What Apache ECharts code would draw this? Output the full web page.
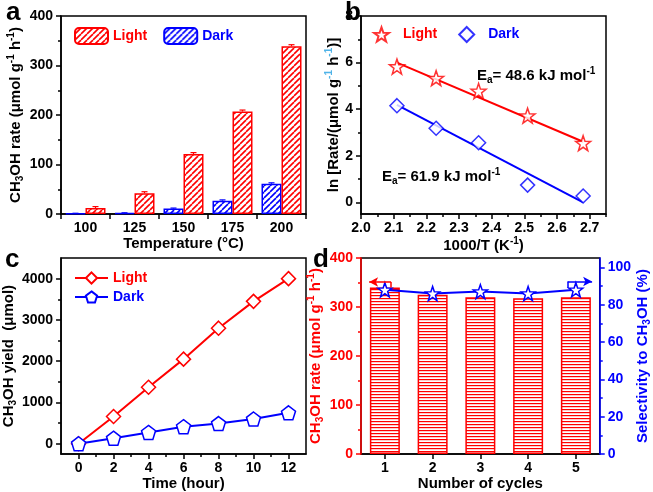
<!DOCTYPE html>
<html><head><meta charset="utf-8">
<script src="https://cdn.jsdelivr.net/npm/echarts@6/dist/echarts.min.js"></script>
<style>html,body{margin:0;padding:0;background:#fff}#c{width:653px;height:492px}</style>
</head><body><div id="c"></div>
<script>
// ---------- data ----------
const tempCats = ['100', '125', '150', '175', '200'];
const lightRate = [12, 42, 121, 207, 339];
const lightErr = [3, 3, 3, 3, 3];
const darkRate = [1, 2, 11, 27, 61];
const darkErr = [0.5, 0.5, 1, 1.5, 2];

const invT = [2.11, 2.23, 2.36, 2.51, 2.68];
const lnLight = [5.83, 5.33, 4.78, 3.72, 2.54];
const lnDark = [4.15, 3.18, 2.56, 0.74, 0.27];
const fitX = [2.11, 2.68];
const fitLight = [6.0, 2.6];
const fitDark = [4.18, 0.0];
const bXTicks = [2.0, 2.1, 2.2, 2.3, 2.4, 2.5, 2.6, 2.7];
const bXMinor = [2.05, 2.15, 2.25, 2.35, 2.45, 2.55, 2.65, 2.75];
const bYTicks = [0, 2, 4, 6, 8];
const bYMinor = [1, 3, 5, 7];

const hours = [0, 2, 4, 6, 8, 10, 12];
const yieldLight = [0, 660, 1370, 2050, 2800, 3450, 4000];
const yieldDark = [0, 135, 275, 415, 490, 600, 750];
const cXTicks = [0, 2, 4, 6, 8, 10, 12];
const cXMinor = [1, 3, 5, 7, 9, 11];
const cYTicks = [0, 1000, 2000, 3000, 4000];
const cYMinor = [500, 1500, 2500, 3500];

const cycles = [1, 2, 3, 4, 5];
const cycleRate = [340, 325, 320, 318, 320];
const selectivity = [88, 86, 87, 86, 88];
const dRightTicks = [0, 20, 40, 60, 80, 100];
const dRightMinor = [10, 30, 50, 70, 90];
const arrowRate = [[1.13, 340], [1.13, 351], [0.67, 351]];
const arrowSel = [[4.83, 89], [4.83, 92.4], [5.34, 92.4]];

// ---------- styles ----------
const FONT = '"Liberation Sans", Arial, Helvetica, sans-serif';
const RED = '#ff0000', BLUE = '#0000ff', BLACK = '#000';
const NAME_SIZE = 15;
const STAR = 'path://M0,-10 L2.35,-3.24 L9.51,-3.09 L3.8,1.24 L5.88,8.09 L0,4 L-5.88,8.09 L-3.8,1.24 L-9.51,-3.09 L-2.35,-3.24 Z';
const PENT = 'path://M0,-10 L9.51,-3.09 L5.88,8.09 L-5.88,8.09 L-9.51,-3.09 Z';

function diagHatch(color) {
  const s = 6, c = document.createElement('canvas');
  c.width = s; c.height = s;
  const g = c.getContext('2d');
  g.fillStyle = '#fff'; g.fillRect(0, 0, s, s);
  g.strokeStyle = color; g.lineWidth = 1.6;
  for (const k of [-s, 0, s]) { g.beginPath(); g.moveTo(k, s); g.lineTo(k + s, 0); g.stroke(); }
  return { image: c, repeat: 'repeat' };
}
function horizStripes(color) {
  const c = document.createElement('canvas');
  c.width = 4; c.height = 3;
  const g = c.getContext('2d');
  g.fillStyle = '#fff'; g.fillRect(0, 0, 4, 3);
  g.fillStyle = color; g.fillRect(0, 1, 4, 1.2);
  return { image: c, repeat: 'repeat' };
}
function R(color, size, supColor) {
  size = size || NAME_SIZE;
  const s = Math.round(size * 0.66);
  return {
    t: { fontSize: size, fontWeight: 'bold', fontFamily: FONT, color: color, lineHeight: size + 4 },
    sub: { fontSize: s, fontWeight: 'bold', fontFamily: FONT, color: color, verticalAlign: 'bottom', lineHeight: s },
    sup: { fontSize: s, fontWeight: 'bold', fontFamily: FONT, color: supColor || color, verticalAlign: 'top', lineHeight: s }
  };
}
const lbl = (color) => ({ fontFamily: FONT, fontWeight: 'bold', fontSize: 14, color: color || BLACK });
const nameStyle = { fontFamily: FONT, fontWeight: 'bold', fontSize: NAME_SIZE, color: BLACK };
const line = (color) => ({ show: true, onZero: false, lineStyle: { color: color || BLACK, width: 1.5 } });
const tick = (color, len) => ({ show: true, length: len || 5, lineStyle: { color: color || BLACK, width: 1.5 } });
const gridBox = (l, t, w, h) => ({ left: l, top: t, width: w, height: h, show: true, borderColor: BLACK, borderWidth: 1.5, backgroundColor: 'transparent' });
const plain = v => String(v);

function minorAxis(base, vals, color) {
  return Object.assign({}, base, {
    name: '', axisLine: { show: false, onZero: false }, axisLabel: { show: false },
    axisTick: Object.assign(tick(color, 3), { customValues: vals }), splitLine: { show: false }
  });
}

// ---------- axes ----------
const bX = { type: 'value', gridIndex: 1, min: 2.0, max: 2.75, position: 'bottom' };
const bY = { type: 'value', gridIndex: 1, min: -0.5, max: 8, position: 'left' };
const cX = { type: 'value', gridIndex: 2, min: -1, max: 13, position: 'bottom' };
const cY = { type: 'value', gridIndex: 2, min: -250, max: 4500, position: 'left' };
const dYR = { type: 'value', gridIndex: 3, min: 0, max: 105, position: 'right' };

const xAxis = [
  { type: 'category', gridIndex: 0, data: tempCats, position: 'bottom',
    axisLine: line(), axisTick: tick(), axisLabel: Object.assign(lbl(), { margin: 7 }), splitLine: { show: false },
    name: 'Temperature (°C)', nameLocation: 'middle', nameGap: 18, nameTextStyle: nameStyle },
  Object.assign({}, bX, {
    axisLine: line(), axisTick: Object.assign(tick(), { customValues: bXTicks }),
    axisLabel: Object.assign(lbl(), { margin: 7, customValues: bXTicks, formatter: v => v.toFixed(1) }),
    splitLine: { show: false },
    name: '{t|1000/T (K}{sup|-1}{t|)}', nameLocation: 'middle', nameGap: 17,
    nameTextStyle: { rich: R(BLACK) } }),
  minorAxis(bX, bXMinor),
  Object.assign({}, cX, {
    axisLine: line(), axisTick: Object.assign(tick(), { customValues: cXTicks }),
    axisLabel: Object.assign(lbl(), { margin: 7, customValues: cXTicks, formatter: plain }), splitLine: { show: false },
    name: 'Time (hour)', nameLocation: 'middle', nameGap: 18, nameTextStyle: nameStyle }),
  minorAxis(cX, cXMinor),
  { type: 'value', gridIndex: 3, min: 0.5, max: 5.5, position: 'bottom',
    axisLine: line(), axisTick: Object.assign(tick(), { customValues: cycles }),
    axisLabel: Object.assign(lbl(), { margin: 7, customValues: cycles, formatter: plain }), splitLine: { show: false },
    name: 'Number of cycles', nameLocation: 'middle', nameGap: 18, nameTextStyle: nameStyle }
];

const yAxis = [
  { type: 'value', gridIndex: 0, min: 0, max: 400, interval: 100, position: 'left',
    axisLine: line(), axisTick: tick(), axisLabel: Object.assign(lbl(), { margin: 8, formatter: plain }),
    minorTick: { show: true, splitNumber: 2, length: 3, lineStyle: { color: BLACK, width: 1.5 } },
    splitLine: { show: false }, minorSplitLine: { show: false },
    name: '{t|CH}{sub|3}{t|OH rate (μmol g}{sup|-1}{t| h}{sup|-1}{t|)}', nameLocation: 'middle', nameGap: 34,
    nameTextStyle: { rich: R(BLACK) } },
  Object.assign({}, bY, {
    axisLine: line(), axisTick: Object.assign(tick(), { customValues: bYTicks }),
    axisLabel: Object.assign(lbl(), { margin: 8, customValues: bYTicks, formatter: plain }), splitLine: { show: false },
    name: '{t|ln [Rate/(μmol g}{sup|-1}{t| h}{sup|-1}{t|)]}', nameLocation: 'middle', nameGap: 18,
    nameTextStyle: { rich: R(BLACK, NAME_SIZE, '#4fb3e8') } }),
  minorAxis(bY, bYMinor),
  Object.assign({}, cY, {
    axisLine: line(), axisTick: Object.assign(tick(), { customValues: cYTicks }),
    axisLabel: Object.assign(lbl(), { margin: 8, customValues: cYTicks, formatter: plain }), splitLine: { show: false },
    name: '{t|CH}{sub|3}{t|OH yield  (μmol)}', nameLocation: 'middle', nameGap: 36,
    nameTextStyle: { rich: R(BLACK) } }),
  minorAxis(cY, cYMinor),
  { type: 'value', gridIndex: 3, min: 0, max: 400, interval: 100, position: 'left', z: 3,
    axisLine: line(RED), axisTick: tick(RED), axisLabel: Object.assign(lbl(RED), { margin: 8, formatter: plain }),
    minorTick: { show: true, splitNumber: 2, length: 3, lineStyle: { color: RED, width: 1.5 } },
    splitLine: { show: false }, minorSplitLine: { show: false },
    name: '{t|CH}{sub|3}{t|OH rate (μmol g}{sup|-1}{t| h}{sup|-1}{t|)}', nameLocation: 'middle', nameGap: 29,
    nameTextStyle: { rich: R(RED) } },
  Object.assign({}, dYR, { z: 3,
    axisLine: line(BLUE), axisTick: Object.assign(tick(BLUE), { customValues: dRightTicks }),
    axisLabel: Object.assign(lbl(BLUE), { margin: 8, customValues: dRightTicks, formatter: plain }), splitLine: { show: false },
    name: '{t|Selectivity to CH}{sub|3}{t|OH (%)}', nameLocation: 'middle', nameGap: 26, nameRotate: 90,
    nameTextStyle: { rich: R(BLUE) } }),
  minorAxis(dYR, dRightMinor, BLUE)
];

// ---------- series ----------
const errData = tempCats.map((c, i) => [i, lightRate[i], lightErr[i], 1])
  .concat(tempCats.map((c, i) => [i, darkRate[i], darkErr[i], -1]));

function arrowLines(pts, color) {
  return { silent: true, animation: false, symbol: ['none', 'none'], symbolSize: [7, 9], label: { show: false },
    lineStyle: { color: color, width: 1.5, type: 'solid' },
    data: [
      [{ coord: pts[0], symbol: 'none' }, { coord: pts[1], symbol: 'none' }],
      [{ coord: pts[1], symbol: 'none' }, { coord: pts[2], symbol: 'arrow', symbolSize: [7, 9] }]
    ] };
}

const series = [
  { type: 'bar', name: 'Dark#a', xAxisIndex: 0, yAxisIndex: 0, data: darkRate, barWidth: 20, barGap: '0%',
    itemStyle: { color: diagHatch(BLUE), borderColor: BLUE, borderWidth: 1.5 } },
  { type: 'bar', name: 'Light#a', xAxisIndex: 0, yAxisIndex: 0, data: lightRate, barWidth: 20, barGap: '0%',
    itemStyle: { color: diagHatch(RED), borderColor: RED, borderWidth: 1.5 } },
  { type: 'custom', xAxisIndex: 0, yAxisIndex: 0, data: errData, z: 5,
    renderItem: function (params, api) {
      const i = api.value(0), v = api.value(1), e = api.value(2), side = api.value(3);
      const col = side > 0 ? RED : BLUE;
      const p0 = api.coord([i, v]), p1 = api.coord([i, v + e]);
      const x = p0[0] + side * 10;
      return { type: 'group', children: [
        { type: 'line', shape: { x1: x, y1: p0[1], x2: x, y2: p1[1] }, style: { stroke: col, lineWidth: 1.2 } },
        { type: 'line', shape: { x1: x - 3, y1: p1[1], x2: x + 3, y2: p1[1] }, style: { stroke: col, lineWidth: 1.2 } }
      ] };
    } },

  { type: 'line', xAxisIndex: 1, yAxisIndex: 1, data: fitX.map((x, i) => [x, fitLight[i]]), symbol: 'none',
    lineStyle: { color: RED, width: 2 }, silent: true },
  { type: 'line', xAxisIndex: 1, yAxisIndex: 1, data: fitX.map((x, i) => [x, fitDark[i]]), symbol: 'none',
    lineStyle: { color: BLUE, width: 2 }, silent: true },
  { type: 'scatter', name: 'Light#b', xAxisIndex: 1, yAxisIndex: 1, data: invT.map((x, i) => [x, lnLight[i]]),
    symbol: STAR, symbolSize: 15, z: 4, itemStyle: { color: '#fff', borderColor: RED, borderWidth: 1.5 } },
  { type: 'scatter', name: 'Dark#b', xAxisIndex: 1, yAxisIndex: 1, data: invT.map((x, i) => [x, lnDark[i]]),
    symbol: 'diamond', symbolSize: 14, z: 4, itemStyle: { color: '#fff', borderColor: BLUE, borderWidth: 1.5 } },

  { type: 'line', name: 'Light#c', xAxisIndex: 3, yAxisIndex: 3, data: hours.map((h, i) => [h, yieldLight[i]]),
    symbol: 'diamond', symbolSize: 14, showAllSymbol: true,
    lineStyle: { color: RED, width: 2 }, itemStyle: { color: '#fff', borderColor: RED, borderWidth: 1.5 } },
  { type: 'line', name: 'Dark#c', xAxisIndex: 3, yAxisIndex: 3, data: hours.map((h, i) => [h, yieldDark[i]]),
    symbol: PENT, symbolSize: 14, showAllSymbol: true,
    lineStyle: { color: BLUE, width: 2 }, itemStyle: { color: '#fff', borderColor: BLUE, borderWidth: 1.5 } },

  { type: 'bar', xAxisIndex: 5, yAxisIndex: 5, data: cycles.map((c, i) => [c, cycleRate[i]]), barWidth: 30,
    itemStyle: { color: horizStripes(RED), borderColor: RED, borderWidth: 1.5 },
    markLine: arrowLines(arrowRate, RED) },
  { type: 'line', xAxisIndex: 5, yAxisIndex: 6, data: cycles.map((c, i) => [c, selectivity[i]]), z: 4,
    symbol: STAR, symbolSize: 14, lineStyle: { color: BLUE, width: 2 },
    itemStyle: { color: '#fff', borderColor: BLUE, borderWidth: 1.5 },
    markLine: arrowLines(arrowSel, BLUE) }
];

const stripName = n => n.split('#')[0];
const legTxt = { fontFamily: FONT, fontWeight: 'bold', fontSize: 14 };
const legend = [
  { left: 74, top: 27, padding: 0, itemWidth: 33, itemHeight: 16, itemGap: 16, selectedMode: false, formatter: stripName,
    textStyle: legTxt,
    data: [{ name: 'Light#a', textStyle: { color: RED } }, { name: 'Dark#a', textStyle: { color: BLUE } }] },
  { left: 373, top: 26, padding: 0, itemWidth: 15, itemHeight: 15, itemGap: 21, selectedMode: false,
    formatter: n => '{p|}' + stripName(n),
    textStyle: Object.assign({ rich: { p: { width: 9 } } }, legTxt),
    data: [{ name: 'Light#b', textStyle: { color: RED } }, { name: 'Dark#b', textStyle: { color: BLUE } }] },
  { left: 74, top: 271, padding: 0, orient: 'vertical', itemWidth: 33, itemHeight: 14, itemGap: 5, selectedMode: false,
    formatter: stripName, textStyle: legTxt,
    data: [{ name: 'Light#c', textStyle: { color: RED } }, { name: 'Dark#c', textStyle: { color: BLUE } }] }
];

const letter = (t, x, y) => ({ type: 'text', x: x, y: y, style: { text: t, font: 'bold 26px ' + FONT, fill: BLACK } });
const graphic = [
  letter('a', 6, 0), letter('b', 345, 0), letter('c', 5, 247), letter('d', 313, 247),
  { type: 'text', x: 477, y: 66, style: { text: '{t|E}{sub|a}{t|= 48.6 kJ mol}{sup|-1}', rich: R(RED) } },
  { type: 'text', x: 382, y: 167, style: { text: '{t|E}{sub|a}{t|= 61.9 kJ mol}{sup|-1}', rich: R(BLUE) } }
];

const chart = echarts.init(document.getElementById('c'), null, { renderer: 'canvas' });
chart.setOption({
  animation: false,
  backgroundColor: '#fff',
  grid: [gridBox(61, 16, 245, 198), gridBox(361, 16, 245, 198), gridBox(61, 258, 245, 197), gridBox(361, 258, 245, 197)],
  xAxis: xAxis, yAxis: yAxis, series: series, legend: legend, graphic: graphic
});
</script></body></html>
